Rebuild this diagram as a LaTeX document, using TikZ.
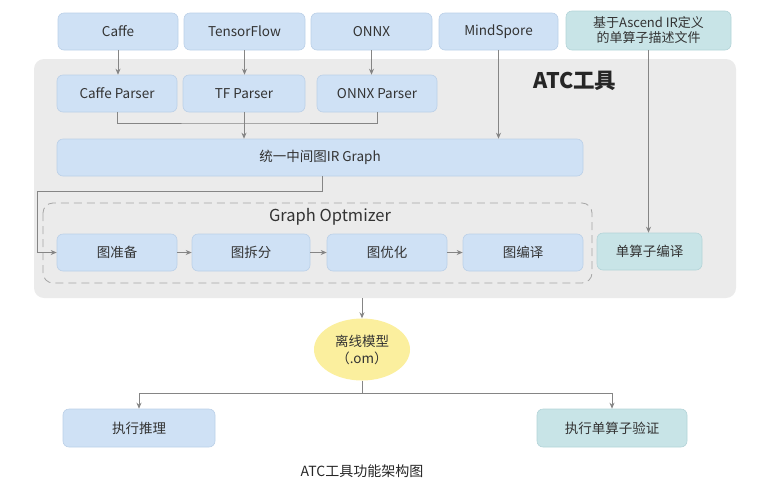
\documentclass[tikz,border=0pt]{standalone}
\usepackage{fontspec}
\setmainfont{Noto Sans CJK SC}
\usepackage{tikz}
\usetikzlibrary{arrows.meta}
\usetikzlibrary{shapes.geometric}

\definecolor{boxblue}{HTML}{CFE1F5}
\definecolor{lineblue}{HTML}{BBD0E8}
\definecolor{boxteal}{HTML}{C8E4E7}
\definecolor{lineteal}{HTML}{B3D4D8}
\definecolor{panelgray}{HTML}{EBEBEB}
\definecolor{omyellow}{HTML}{FBEF9E}
\definecolor{arrgray}{HTML}{858585}
\definecolor{txtgray}{HTML}{333333}

\tikzset{
  box/.style={draw=lineblue, fill=boxblue, rounded corners=6pt, line width=0.6pt,
    text=txtgray, font=\fontsize{13.5}{15}\selectfont, inner sep=0pt},
  tealbox/.style={box, draw=lineteal, fill=boxteal},
  arr/.style={draw=arrgray, line width=0.8pt, -{Stealth[length=6pt,width=5pt]}},
  ln/.style={draw=arrgray, line width=0.8pt},
}

\begin{document}
\begin{tikzpicture}[x=1pt,y=-1pt]
    \useasboundingbox (0,0) rectangle (776,496);
    % ATC panel
    \node[fill=panelgray, rounded corners=10pt, minimum width=702pt, minimum height=239pt] (atc) at (385,178.5) {};
    \node[font=\fontsize{21.5}{23}\selectfont\bfseries, text=black!85] (atclabel) at (575,81) {ATC工具};
    % inputs
    \node[box, minimum width=120pt, minimum height=37pt] (caffe) at (118,31.5) {Caffe};
    \node[box, minimum width=121pt, minimum height=37pt] (tf) at (244.5,31.5) {TensorFlow};
    \node[box, minimum width=121pt, minimum height=37pt] (onnx) at (371.5,31.5) {ONNX};
    \node[box, minimum width=119pt, minimum height=37pt] (mindspore) at (498.5,31.5) {MindSpore};
    \node[tealbox, minimum width=165pt, minimum height=39pt, align=center,
      font=\fontsize{13}{15}\selectfont] (ascend) at (648.5,30.5) {基于Ascend IR定义\\的单算子描述文件};
    % parsers
    \node[box, minimum width=120pt, minimum height=37pt] (caffep) at (117,93.5) {Caffe Parser};
    \node[box, minimum width=122pt, minimum height=37pt] (tfp) at (244,93.5) {TF Parser};
    \node[box, minimum width=120pt, minimum height=37pt] (onnxp) at (377,93.5) {ONNX Parser};
    \node[box, minimum width=526pt, minimum height=37pt] (ir) at (320,157.5) {统一中间图IR Graph};
    % graph optimizer
    \draw[draw=black!35, dashed, dash pattern=on 8pt off 5pt, line width=0.8pt, rounded corners=10pt] (43,203) rectangle (592,283);
    \node[font=\fontsize{16.5}{18}\selectfont, text=txtgray] (optlabel) at (330,217) {Graph Optmizer};
    \node[box, minimum width=120pt, minimum height=37pt] (prep) at (117,252.5) {图准备};
    \node[box, minimum width=118pt, minimum height=37pt] (split) at (251,252.5) {图拆分};
    \node[box, minimum width=120pt, minimum height=37pt] (optim) at (387,252.5) {图优化};
    \node[box, minimum width=120pt, minimum height=37pt] (comp) at (523,252.5) {图编译};
    \node[tealbox, minimum width=105pt, minimum height=37pt] (single) at (649.5,251.5) {单算子编译};
    % outputs
    \node[ellipse, fill=omyellow, minimum width=96pt, minimum height=62pt, inner sep=0pt, align=center,
      text=txtgray, font=\fontsize{13.5}{17}\selectfont] (om) at (362,349.5) {离线模型\\（.om）};
    \node[box, minimum width=152pt, minimum height=38pt] (infer) at (139,428) {执行推理};
    \node[tealbox, minimum width=150pt, minimum height=38pt] (verify) at (612,428) {执行单算子验证};
    \node[font=\fontsize{14}{16}\selectfont, text=black!85] (caption) at (362,471) {ATC工具功能架构图};

    \coordinate (merge) at (244,123);
    \coordinate (bend) at (37,191);
    \coordinate (fork) at (362,393);

    \draw[arr] (caffe.south) -- (caffe.south |- caffep.north);
    \draw[arr] (tf.south) -- (tf.south |- tfp.north);
    \draw[arr] (onnx.south) -- (onnx.south |- onnxp.north);
    \draw[ln] (caffep.south) |- (merge) -| (onnxp.south);
    \draw[arr] (tfp.south) -- (tfp.south |- ir.north);
    \draw[arr] (mindspore.south) -- (mindspore.south |- ir.north);
    \draw[arr] (ascend.south) -- (ascend.south |- single.north);
    \draw[arr] (ir.south -| 322,0) |- (bend) |- (prep.west);
    \draw[arr] (prep) -- (split);
    \draw[arr] (split) -- (optim);
    \draw[arr] (optim) -- (comp);
    \draw[arr] (atc.south -| om.north) -- (om.north);
    \draw[ln] (om.south) -- (fork);
    \draw[arr] (fork) -| (infer.north);
    \draw[arr] (fork) -| (verify.north);
\end{tikzpicture}
\end{document}
